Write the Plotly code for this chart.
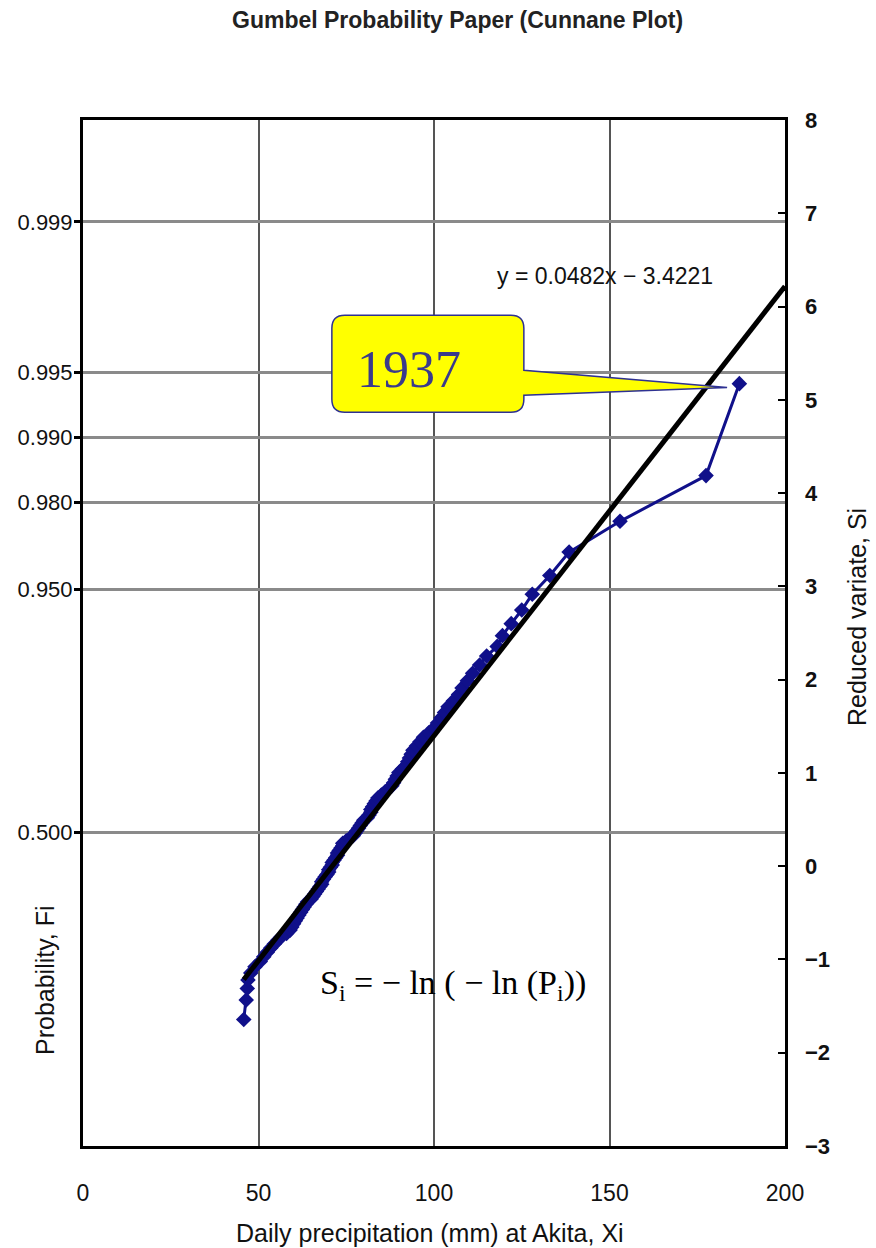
import numpy as np
import plotly.graph_objects as go

# ---------------- data ----------------
# Annual maximum daily precipitation (mm) at Akita, sorted ascending
precip = [45.8, 46.5, 46.8, 47.0, 47.8, 49.0, 50.5, 51.5, 52.5, 53.5,
          54.5, 55.5, 56.5, 58.0, 59.0, 59.5, 60.0, 60.5, 61.0, 61.5,
          62.0, 62.5, 63.0, 63.5, 64.0, 65.0, 65.5, 66.0, 66.5, 67.0,
          67.5, 68.0, 68.0, 68.5, 69.0, 69.5, 70.0, 70.0, 70.5, 71.0,
          71.0, 71.5, 72.0, 72.5, 72.5, 73.0, 73.5, 74.0, 74.0, 75.0,
          76.0, 77.0, 77.5, 78.0, 78.5, 79.0, 79.5, 80.0, 81.0, 81.5,
          82.0, 82.0, 82.5, 83.0, 83.5, 84.0, 85.0, 86.0, 87.0, 88.0,
          88.5, 89.0, 89.5, 90.0, 91.0, 92.0, 92.5, 93.0, 93.5, 94.0,
          95.0, 96.0, 97.0, 98.5, 100.0, 101.0, 102.0, 103.0, 104.0, 105.5,
          107.0, 108.0, 109.5, 111.0, 113.0, 115.0, 118.0, 119.5, 122.0, 125.0,
          128.0, 133.0, 138.5, 153.0, 177.5, 187.0]

# Trend line from the chart: y = 0.0482x - 3.4221
fit_slope = 0.0482
fit_intercept = -3.4221
fit_x_end = 200

prob_ticks = [0.500, 0.950, 0.980, 0.990, 0.995, 0.999]
prob_labels = ["0.500", "0.950", "0.980", "0.990", "0.995", "0.999"]

s_ticks = [-3, -2, -1, 0, 1, 2, 3, 4, 5, 6, 7, 8]
s_labels = ["\u22123", "\u22122", "\u22121", "0", "1", "2", "3", "4", "5", "6", "7", "8"]

x_ticks = [0, 50, 100, 150, 200]

# ---------------- derived (Cunnane plotting position) ----------------
N = len(precip)
rank = np.arange(1, N + 1)
P = (rank - 0.4) / (N + 0.2)
S = -np.log(-np.log(P))

fit_x = np.array([min(precip), fit_x_end])
fit_y = fit_slope * fit_x + fit_intercept

prob_pos = [-np.log(-np.log(p)) for p in prob_ticks]

BLUE = "#10108a"
sans = "Liberation Sans, Arial, sans-serif"
serif = "Liberation Serif, Times New Roman, serif"

fig = go.Figure()
fig.add_trace(go.Scatter(
    x=precip, y=S, mode="lines+markers",
    line=dict(color=BLUE, width=3),
    marker=dict(symbol="diamond", size=12, color=BLUE),
    showlegend=False, hoverinfo="x+y"))
fig.add_trace(go.Scatter(
    x=fit_x, y=fit_y, mode="lines",
    line=dict(color="black", width=5),
    showlegend=False, hoverinfo="skip"))
fig.add_trace(go.Scatter(
    x=[0], y=[0], yaxis="y2", mode="markers",
    marker=dict(opacity=0), showlegend=False, hoverinfo="skip"))

# ---------------- callout "1937" ----------------
L, R, T, B = 70.9, 125.6, 5.906, 4.866
rx, ry = 3.7, 0.14
p_top, p_bot = 5.316, 5.048
tip_x, tip_y = precip[-1] - 3.5, S[-1] - 0.04
path = (f"M {L+rx},{T} L {R-rx},{T} Q {R},{T} {R},{T-ry} "
        f"L {R},{p_top} L {tip_x},{tip_y} L {R},{p_bot} "
        f"L {R},{B+ry} Q {R},{B} {R-rx},{B} L {L+rx},{B} "
        f"Q {L},{B} {L},{B+ry} L {L},{T-ry} Q {L},{T} {L+rx},{T} Z")

fig.update_layout(
    width=876, height=1248, autosize=False,
    margin=dict(l=83, r=91, t=120, b=102),
    paper_bgcolor="white", plot_bgcolor="white",
    xaxis=dict(range=[0, 200], tickvals=x_ticks, showgrid=True,
               gridcolor="#555555", gridwidth=1.5, zeroline=False,
               showline=True, mirror=True, linecolor="black", linewidth=3,
               ticks="", ticklabelstandoff=24,
               tickfont=dict(family=sans, size=23, color="#111111")),
    yaxis=dict(range=[-3, 8], tickvals=prob_pos, ticktext=prob_labels,
               showgrid=True, gridcolor="#8a8a8a", gridwidth=3, zeroline=False,
               showline=True, mirror=True, linecolor="black", linewidth=3,
               ticks="outside", ticklen=6, tickwidth=3, tickcolor="black",
               ticklabelstandoff=-3,
               tickfont=dict(family=sans, size=22, color="#111111")),
    yaxis2=dict(range=[-3, 8], overlaying="y", side="right",
                tickvals=s_ticks, ticktext=s_labels, showgrid=False,
                zeroline=False, showline=False,
                ticks="inside", ticklen=7, tickwidth=1.5, tickcolor="black",
                ticklabelstandoff=19,
                tickfont=dict(family=sans, size=22, color="#111111", weight="bold")),
    shapes=[dict(type="path", path=path, xref="x", yref="y",
                 fillcolor="#ffff00", line=dict(color="#2e3192", width=1.5),
                 layer="above")],
    annotations=[
        dict(text="Gumbel Probability Paper (Cunnane Plot)", xref="paper", yref="paper",
             x=0.534, y=1.0975, showarrow=False, xanchor="center", yanchor="middle",
             font=dict(family=sans, size=23, color="#222222", weight="bold")),
        dict(text="Daily precipitation (mm) at Akita, Xi", xref="paper", yref="paper",
             x=0.494, y=-0.0848, showarrow=False, xanchor="center", yanchor="middle",
             font=dict(family=sans, size=25, color="#111111")),
        dict(text="Probability, Fi", xref="paper", yref="paper",
             x=-0.0541, y=0.1618, showarrow=False, textangle=-90,
             xanchor="center", yanchor="middle",
             font=dict(family=sans, size=25, color="#111111")),
        dict(text="Reduced variate, Si", xref="paper", yref="paper",
             x=1.1026, y=0.5156, showarrow=False, textangle=-90,
             xanchor="center", yanchor="middle",
             font=dict(family=sans, size=25, color="#111111")),
        dict(text="y = 0.0482x \u2212 3.4221", xref="x", yref="y",
             x=148.7, y=6.33, showarrow=False, xanchor="center", yanchor="middle",
             font=dict(family=sans, size=23, color="#111111")),
        dict(text="S<sub>i</sub> = \u2212 ln ( \u2212 ln (P<sub>i</sub>))", xref="x", yref="y",
             x=105.4, y=-1.275, showarrow=False, xanchor="center", yanchor="middle",
             font=dict(family=serif, size=34, color="#000000")),
        dict(text="1937", xref="x", yref="y",
             x=92.9, y=5.33, showarrow=False, xanchor="center", yanchor="middle",
             font=dict(family=serif, size=52, color="#3a3a8c")),
    ],
)

fig.write_html("out.html")
